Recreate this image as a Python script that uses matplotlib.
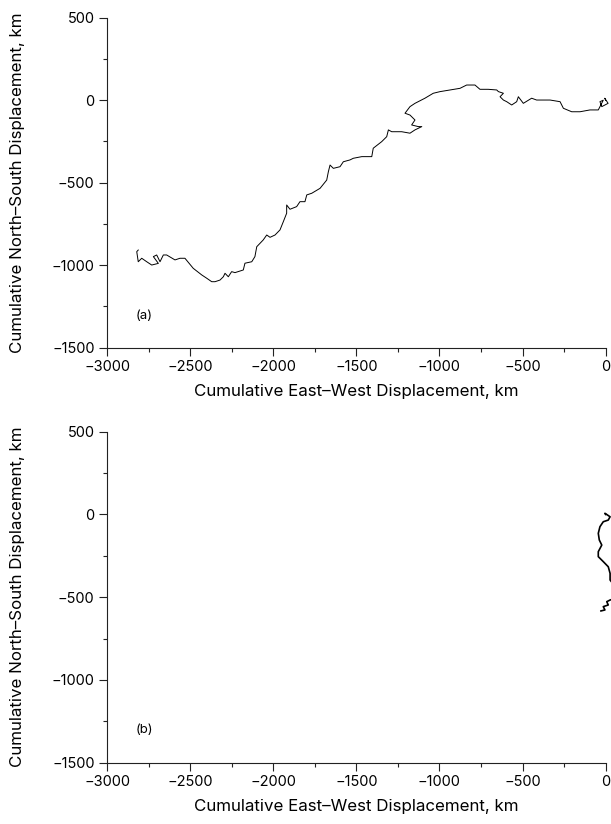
import matplotlib
matplotlib.use("Agg")
import matplotlib.pyplot as plt
from matplotlib.ticker import MultipleLocator

# ---- data (km) ----
# Panel (a): cumulative displacement track, from origin westward
a_x = [0, -5, 15, -23, -34, -14, -44, -64, -94, -154, -204, -254, -274, -334, -415,
       -445, -495, -525, -535, -565, -595, -615, -635, -615, -645, -655, -706, -756,
       -786, -836, -876, -936, -996, -1037, -1087, -1147, -1177, -1207, -1177, -1147,
       -1167, -1127, -1106, -1147, -1177, -1227, -1287, -1307, -1317, -1347, -1398,
       -1407, -1467, -1518, -1538, -1578, -1598, -1638, -1658, -1668, -1678, -1718,
       -1768, -1798, -1809, -1839, -1859, -1899, -1919, -1919, -1939, -1959, -1989,
       -2019, -2039, -2060, -2099, -2110, -2129, -2170, -2180, -2230, -2250, -2270,
       -2290, -2300, -2320, -2350, -2370, -2400, -2430, -2481, -2531, -2561, -2591,
       -2641, -2661, -2681, -2701, -2721, -2691, -2731, -2761, -2791, -2812, -2821,
       -2812]
a_y = [0, 12, -19, -39, -9, 0, -59, -59, -59, -70, -70, -49, -9, 1, 1,
       12, -19, 21, -9, -29, -9, 1, 21, 42, 52, 62, 66, 66,
       92, 92, 72, 62, 52, 42, 12, -19, -39, -79, -90, -120,
       -150, -160, -160, -180, -200, -191, -191, -180, -221, -251, -291,
       -342, -342, -352, -362, -373, -403, -413, -393, -433, -484, -534,
       -564, -574, -615, -615, -645, -661, -635, -685, -736, -786, -817,
       -831, -817, -847, -888, -948, -979, -988, -1029, -1045, -1039, -1070,
       -1049, -1070, -1090, -1100, -1100, -1079, -1059, -1019, -958, -958, -968,
       -938, -938, -979, -938, -948, -989, -999, -979, -958, -979, -918,
       -908]

# Panel (b): short track near the origin
b_x = [0, -4, 27, 16, -14, -34, -44, -38, -23, -44, -44, -14, 16, 27, 27,
       60, 80, 50, 27, 7, 16, -14, -4, -28]
b_y = [0, 7, -14, -34, -44, -74, -114, -154, -185, -225, -255, -285, -316, -356, -396,
       -440, -480, -510, -517, -527, -547, -557, -577, -583]

x_ticks = [-3000, -2500, -2000, -1500, -1000, -500, 0]
y_ticks = [-1500, -1000, -500, 0, 500]
panel_tags = ["(a)", "(b)"]
xlabel = "Cumulative East\u2013West Displacement, km"
ylabel = "Cumulative North\u2013South Displacement, km"

plt.rcParams['font.family'] = ['Inter', 'DejaVu Sans']

W, H = 611, 824
fig = plt.figure(figsize=(W / 100, H / 100), dpi=100)
ax1 = fig.add_axes([107 / W, 1 - 347.7 / H, 498.6 / W, 330 / H])
ax2 = fig.add_axes([107 / W, 1 - 762.7 / H, 498.6 / W, 331 / H])

for ax, xs, ys, tag, lw in [(ax1, a_x, a_y, panel_tags[0], 0.7),
                            (ax2, b_x, b_y, panel_tags[1], 1.2)]:
    ax.plot(xs, ys, color='black', lw=lw, clip_on=False, solid_joinstyle='round')
    ax.set_xlim(-3000, 0)
    ax.set_ylim(-1500, 500)
    for s in ['top', 'right']:
        ax.spines[s].set_visible(False)
    for s in ['left', 'bottom']:
        ax.spines[s].set_linewidth(0.8)
        ax.spines[s].set_color('#222222')
    ax.set_xticks(x_ticks)
    ax.set_xticklabels([f"{v}".replace('-', '\u2212') for v in x_ticks])
    ax.set_yticks(y_ticks)
    ax.set_yticklabels([f"{v}".replace('-', '\u2212') for v in y_ticks])
    ax.xaxis.set_minor_locator(MultipleLocator(250))
    ax.yaxis.set_minor_locator(MultipleLocator(250))
    ax.tick_params(which='major', length=6, width=0.8, direction='out',
                   labelsize=10.5, pad=3, color='#222222')
    ax.tick_params(which='minor', length=3, width=0.8, direction='out', color='#222222')
    ax.set_xlabel(xlabel, fontsize=12.2)
    ax.set_ylabel(ylabel, fontsize=12.2)
    ax.xaxis.set_label_coords(0.5, -0.11)
    ax.yaxis.set_label_coords(-0.164, 0.5)
    ax.text(-2830, -1305, tag, fontsize=9.5, ha='left', va='center')

fig.savefig("out.png", dpi=100)
